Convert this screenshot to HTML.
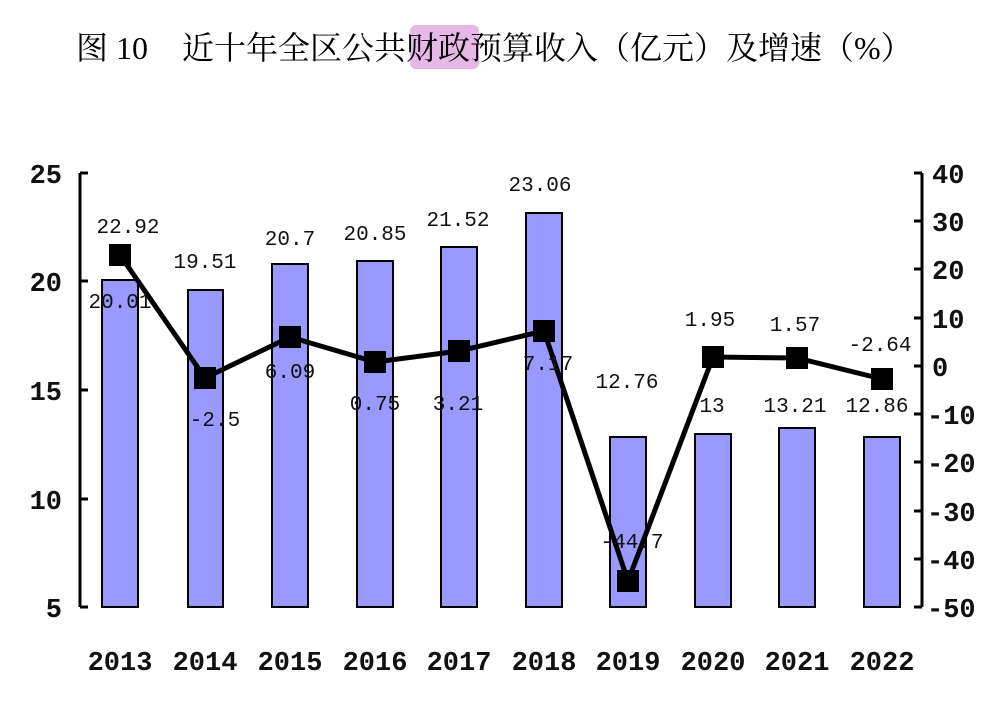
<!DOCTYPE html>
<html><head><meta charset="utf-8"><style>
body{margin:0;background:#fff;}
svg text{font-family:"Liberation Mono","Noto Sans CJK SC",monospace;}
</style></head><body>
<svg width="1000" height="709" viewBox="0 0 1000 709">
<rect x="0" y="0" width="1000" height="709" fill="#fff"/>
<rect x="410" y="25" width="69" height="44" rx="6" fill="#e6b8e6"/>
<text x="76" y="59" font-size="32" style="font-family:'Liberation Serif','Noto Serif CJK SC',serif">图 10</text>
<text x="182" y="59" font-size="32" style="font-family:'Liberation Serif','Noto Serif CJK SC',serif">近十年全区公共财政预算收入（亿元）及增速（%）</text>
<g stroke="#000" stroke-width="2" fill="#9999ff">
<rect x="102" y="280" width="36" height="327"/>
<rect x="188" y="290" width="35" height="317"/>
<rect x="272" y="264" width="36" height="343"/>
<rect x="357" y="261" width="36" height="346"/>
<rect x="441" y="247" width="36" height="360"/>
<rect x="526" y="213" width="36" height="394"/>
<rect x="610" y="437" width="36" height="170"/>
<rect x="695" y="434" width="36" height="173"/>
<rect x="779" y="428" width="36" height="179"/>
<rect x="864" y="437" width="36" height="170"/>
</g>
<g stroke="#000" stroke-width="3">
<line x1="80" y1="173" x2="80" y2="607"/>
<line x1="922" y1="173" x2="922" y2="607"/>
<line x1="80" y1="173" x2="88" y2="173"/><line x1="80" y1="281" x2="88" y2="281"/><line x1="80" y1="390" x2="88" y2="390"/><line x1="80" y1="499" x2="88" y2="499"/><line x1="80" y1="607" x2="88" y2="607"/>
<line x1="914" y1="173" x2="922" y2="173"/><line x1="914" y1="221" x2="922" y2="221"/><line x1="914" y1="269" x2="922" y2="269"/><line x1="914" y1="318" x2="922" y2="318"/><line x1="914" y1="366" x2="922" y2="366"/><line x1="914" y1="414" x2="922" y2="414"/><line x1="914" y1="462" x2="922" y2="462"/><line x1="914" y1="511" x2="922" y2="511"/><line x1="914" y1="559" x2="922" y2="559"/><line x1="914" y1="607" x2="922" y2="607"/>
</g>
<polyline fill="none" stroke="#000" stroke-width="5" points="120,255 205,378 290,337 375,362 459,351 544,331 628,581 713,357 797,358 882,379"/>
<g fill="#000">
<rect x="109" y="244" width="22" height="22"/><rect x="194" y="367" width="22" height="22"/><rect x="279" y="326" width="22" height="22"/><rect x="364" y="351" width="22" height="22"/><rect x="448" y="340" width="22" height="22"/><rect x="533" y="320" width="22" height="22"/><rect x="617" y="570" width="22" height="22"/><rect x="702" y="346" width="22" height="22"/><rect x="786" y="347" width="22" height="22"/><rect x="871" y="368" width="22" height="22"/>
</g>
<g font-size="21" text-anchor="middle" fill="#111">
<text x="128" y="233">22.92</text><text x="120" y="308">20.01</text>
<text x="205" y="268">19.51</text><text x="215" y="426">-2.5</text>
<text x="290" y="245">20.7</text><text x="290" y="378">6.09</text>
<text x="375" y="240">20.85</text><text x="375" y="410">0.75</text>
<text x="458" y="226">21.52</text><text x="458" y="410">3.21</text>
<text x="540" y="191">23.06</text><text x="548" y="370">7.17</text>
<text x="627" y="388">12.76</text><text x="632" y="548">-44.7</text>
<text x="710" y="326">1.95</text><text x="712" y="412">13</text>
<text x="795" y="331">1.57</text><text x="795" y="412">13.21</text>
<text x="880" y="351">-2.64</text><text x="877" y="412">12.86</text>
</g>
<g font-size="27" text-anchor="end" fill="#111" font-weight="bold">
<text x="62" y="183">25</text><text x="62" y="291">20</text><text x="62" y="400">15</text><text x="62" y="509">10</text><text x="62" y="617">5</text>
</g>
<g font-size="27" text-anchor="start" fill="#111" font-weight="bold">
<text x="932" y="183">40</text><text x="932" y="231">30</text><text x="932" y="279">20</text><text x="932" y="328">10</text><text x="932" y="376">0</text><text x="927" y="424">-10</text><text x="927" y="472">-20</text><text x="927" y="521">-30</text><text x="927" y="569">-40</text><text x="927" y="617">-50</text>
</g>
<g font-size="27" text-anchor="middle" fill="#111" font-weight="bold">
<text x="120" y="670">2013</text><text x="205" y="670">2014</text><text x="290" y="670">2015</text><text x="375" y="670">2016</text><text x="459" y="670">2017</text><text x="544" y="670">2018</text><text x="628" y="670">2019</text><text x="713" y="670">2020</text><text x="797" y="670">2021</text><text x="882" y="670">2022</text>
</g>
</svg>
</body></html>
